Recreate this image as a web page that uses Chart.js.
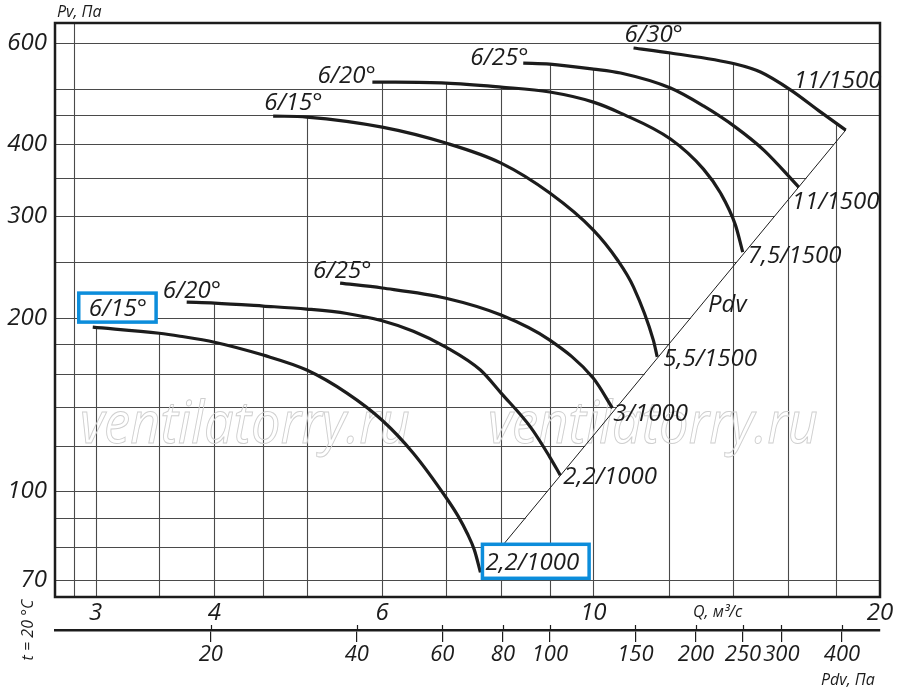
<!DOCTYPE html>
<html>
<head>
<meta charset="utf-8">
<title>Pv / Q</title>
<script src="https://cdn.jsdelivr.net/npm/chart.js"></script>
<style>
  body { margin: 0; background: #ffffff; }
  #chart { display: block; }
</style>
</head>
<body>
<canvas id="chart" width="900" height="694"></canvas>
<script>
// Q, m3/s and Pv, Pa
const q615low = [2.98, 3.5, 3.68, 4.0, 4.5, 5.0, 5.51, 6.0, 6.47, 7.0, 7.21, 7.37, 7.5, 7.61];
const p615low = [192.7, 188, 185.8, 181.4, 172.3, 162.3, 148, 132.8, 116.4, 97.6, 90.5, 84.5, 79, 72.3];

const q620low = [3.74, 4.0, 4.5, 5.0, 5.51, 6.0, 6.47, 7.0, 7.61, 8.0, 8.59, 9.0, 9.23];
const p620low = [212.9, 212.1, 209.6, 207.1, 203.5, 197.6, 189.5, 177.9, 162.3, 148, 129.2, 114.6, 106.6];

const q625low = [5.42, 6.0, 7.0, 8.0, 9.0, 10.0, 10.47];
const p625low = [229.7, 225.3, 216.3, 202.2, 182.9, 157, 139.4];

const q615 = [4.61, 5.0, 6.0, 7.0, 8.0, 9.0, 10.0, 10.6, 11.02, 11.56, 11.67];
const p615 = [448.1, 446.3, 428.7, 402.2, 371.2, 329.3, 284, 252, 226.1, 182.9, 171];

const q620 = [5.86, 7.0, 8.0, 9.0, 10.0, 10.68, 12.05, 13.05, 13.6, 14.1, 14.35];
const p620 = [513.3, 511.3, 503.1, 493.2, 473.7, 453.4, 408.7, 362.4, 329.3, 289.7, 260.1];

const q625 = [8.44, 9.0, 10.0, 10.68, 12.05, 13.05, 14.1, 15.1, 16.43];
const p625 = [553.8, 551.6, 540.7, 532.1, 501.1, 466.5, 428.7, 391, 337.3];

const q630 = [11.02, 12.05, 14.1, 14.98, 16.12, 17.33, 18.41];
const p630 = [588.2, 576.5, 551.6, 534.3, 497.1, 455.1, 423.6];

// dynamic pressure line through the curve ends
const qPdvLine = [7.61, 18.41];
const pPdvLine = [72.3, 423.6];

const bladeNames = ['6/15°', '6/20°', '6/25°', '6/15°', '6/20°', '6/25°', '6/30°'];
const motorNames = ['2,2/1000', '2,2/1000', '3/1000', '5,5/1500', '7,5/1500', '11/1500', '11/1500'];

// grid and tick values
const qGrid = [2.85, 3, 3.5, 4, 4.5, 5, 6, 7, 8, 9, 10, 12, 14, 16, 18];
const pGrid = [70, 80, 90, 100, 120, 140, 160, 180, 200, 250, 300, 350, 400, 450, 500, 600];
const qTicks = [3, 4, 6, 10, 20];
const pTicks = [70, 100, 200, 300, 400, 600];
const pdvTicks = [20, 40, 60, 80, 100, 150, 200, 250, 300, 400];

const curveQ = [q615low, q620low, q625low, q615, q620, q625, q630];
const curveP = [p615low, p620low, p625low, p615, p620, p625, p630];

// label placement next to curve start / end: [dx, dy, box padding or null]
const startLabelPos = [
  [-4, -11, [10, 9, 23, 6]],
  [-24, -4, null],
  [-27, -5, null],
  [-9, -6, null],
  [-55, 1, null],
  [-53, 2, null],
  [-9, -6, null]
];
const endLabelPos = [
  [5, -2, [3, 10, 26, 8]],
  [3, 9, null],
  [1, 13, null],
  [6, 9, null],
  [5, 11, null],
  [-7, 22, null],
  [-52, -42, null]
];

const FONT = "'Open Sans', 'Liberation Sans', sans-serif";
const INK = '#1c1c1c';
const HIGHLIGHT = '#0c8ddb';

function logInterp(xs, ys, x) {
  if (x < xs[0] || x > xs[xs.length - 1]) return null;
  for (let i = 1; i < xs.length; i++) {
    if (x <= xs[i]) {
      const t = (Math.log(x) - Math.log(xs[i - 1])) / (Math.log(xs[i]) - Math.log(xs[i - 1]));
      return Math.exp(Math.log(ys[i - 1]) + t * (Math.log(ys[i]) - Math.log(ys[i - 1])));
    }
  }
  return null;
}

function drawText(ctx, text, x, y, size) {
  ctx.save();
  ctx.font = `italic ${size}px ${FONT}`;
  ctx.fillStyle = INK;
  ctx.textAlign = 'left';
  ctx.textBaseline = 'alphabetic';
  ctx.fillText(text, x, y);
  ctx.restore();
}

function drawLabel(ctx, text, x, y, box) {
  if (box) {
    ctx.save();
    ctx.font = `italic 24px ${FONT}`;
    const w = ctx.measureText(text).width;
    ctx.fillStyle = '#ffffff';
    ctx.strokeStyle = HIGHLIGHT;
    ctx.lineWidth = 3.5;
    const l = x - box[0], r = x + w + box[1], t = y - box[2], b = y + box[3];
    ctx.fillRect(l, t, r - l, b - t);
    ctx.strokeRect(l, t, r - l, b - t);
    ctx.restore();
  }
  drawText(ctx, text, x, y, 24);
}

// grid lines stop at the upper curve envelope and at the Pdv line
const nomogramGrid = {
  id: 'nomogramGrid',
  beforeDatasetsDraw(chart) {
    const { ctx, chartArea } = chart;
    const xs = chart.scales.x, ys = chart.scales.y;
    ctx.save();
    ctx.strokeStyle = '#4a4a4a';
    ctx.lineWidth = 1.1;
    ctx.beginPath();
    qGrid.forEach(q => {
      let top = null;
      curveQ.forEach((qs, i) => {
        const p = logInterp(qs, curveP[i], q);
        if (p !== null && (top === null || p > top)) top = p;
      });
      const x = Math.round(xs.getPixelForValue(q)) + 0.5;
      const y0 = top === null ? chartArea.top : ys.getPixelForValue(top);
      ctx.moveTo(x, y0);
      ctx.lineTo(x, chartArea.bottom);
    });
    pGrid.forEach(p => {
      const q = logInterp(pPdvLine, qPdvLine, p);
      const y = Math.round(ys.getPixelForValue(p)) + 0.5;
      const x1 = q === null ? chartArea.right : xs.getPixelForValue(q);
      ctx.moveTo(chartArea.left, y);
      ctx.lineTo(x1, y);
    });
    ctx.stroke();

    // watermark
    ctx.font = `italic 58px ${FONT}`;
    ctx.strokeStyle = '#cfcfcf';
    ctx.lineWidth = 1;
    const wm = 'ventilatorry.ru';
    const sx = 330 / ctx.measureText(wm).width;
    [80, 488].forEach(left => {
      ctx.save();
      ctx.translate(left, 443);
      ctx.scale(sx, 1);
      ctx.strokeText(wm, 0, 0);
      ctx.restore();
    });
    ctx.restore();
  },
  afterDraw(chart) {
    const { ctx, chartArea } = chart;
    const xs = chart.scales.x, ys = chart.scales.y, pdv = chart.scales.pdv;

    ctx.save();
    ctx.strokeStyle = INK;
    ctx.lineWidth = 2.5;
    ctx.strokeRect(chartArea.left, chartArea.top, chartArea.right - chartArea.left, chartArea.bottom - chartArea.top);

    // upper half of the Pdv tick marks
    ctx.lineWidth = 1.2;
    ctx.beginPath();
    pdvTicks.forEach(v => {
      const x = Math.round(pdv.getPixelForValue(v)) + 0.5;
      ctx.moveTo(x, pdv.top - 5);
      ctx.lineTo(x, pdv.top);
    });
    ctx.stroke();
    ctx.restore();

    curveQ.forEach((qs, i) => {
      const n = qs.length - 1;
      const sx = xs.getPixelForValue(qs[0]), sy = ys.getPixelForValue(curveP[i][0]);
      const ex = xs.getPixelForValue(qs[n]), ey = ys.getPixelForValue(curveP[i][n]);
      const s = startLabelPos[i], e = endLabelPos[i];
      drawLabel(ctx, bladeNames[i], sx + s[0], sy + s[1], s[2]);
      drawLabel(ctx, motorNames[i], ex + e[0], ey + e[1], e[2]);
    });

    drawText(ctx, 'Pdv', 708, 312, 24);
    drawText(ctx, 'Pv, Па', 57, 17, 16);
    drawText(ctx, 'Q, м³/с', 693, 617, 16);
    drawText(ctx, 'Pdv, Па', 821, 685, 16);

    ctx.save();
    ctx.font = `italic 16px ${FONT}`;
    ctx.fillStyle = INK;
    ctx.textAlign = 'center';
    ctx.translate(33, 630);
    ctx.rotate(-Math.PI / 2);
    ctx.fillText('t = 20 °C', 0, 0);
    ctx.restore();
  }
};

const tickFont = { family: FONT, size: 24, style: 'italic' };

const datasets = curveQ.map((qs, i) => ({
  data: qs.map((q, j) => ({ x: q, y: curveP[i][j] })),
  borderColor: INK,
  borderWidth: 3.2,
  cubicInterpolationMode: 'monotone',
  pointRadius: 0,
  showLine: true,
  fill: false
}));
datasets.push({
  data: qPdvLine.map((q, j) => ({ x: q, y: pPdvLine[j] })),
  borderColor: INK,
  borderWidth: 1,
  pointRadius: 0,
  showLine: true,
  fill: false
});

new Chart(document.getElementById('chart').getContext('2d'), {
  type: 'scatter',
  data: { datasets },
  options: {
    responsive: false,
    animation: false,
    devicePixelRatio: 1,
    layout: { padding: { top: 23, right: 20, bottom: 0, left: 0 } },
    plugins: { legend: { display: false }, tooltip: { enabled: false } },
    scales: {
      x: {
        type: 'logarithmic',
        position: 'bottom',
        weight: 0,
        min: 2.72,
        max: 20,
        grid: { display: false, drawTicks: false },
        border: { display: false },
        ticks: {
          font: tickFont, color: INK, padding: 2, autoSkip: false, maxRotation: 0,
          callback: v => qTicks.includes(v) ? String(v) : ''
        },
        afterBuildTicks: s => { s.ticks = qTicks.map(v => ({ value: v })); },
        afterFit: s => { s.height = 33; }
      },
      pdv: {
        type: 'logarithmic',
        axis: 'x',
        position: 'bottom',
        weight: 1,
        min: 9.55,
        max: 479,
        grid: { drawOnChartArea: false, drawTicks: true, tickLength: 12, color: INK, lineWidth: 1.2 },
        border: { display: true, color: INK, width: 2.5 },
        ticks: {
          font: { family: FONT, size: 22, style: 'italic' }, color: INK, padding: 0, autoSkip: false, maxRotation: 0,
          callback: v => pdvTicks.includes(v) ? String(v) : ''
        },
        afterBuildTicks: s => { s.ticks = pdvTicks.map(v => ({ value: v })); },
        afterFit: s => { s.height = 64; }
      },
      y: {
        type: 'logarithmic',
        position: 'left',
        min: 65.5,
        max: 650,
        grid: { display: false, drawTicks: false },
        border: { display: false },
        ticks: {
          font: tickFont, color: INK, padding: 8, autoSkip: false,
          callback: v => pTicks.includes(v) ? String(v) : ''
        },
        afterBuildTicks: s => { s.ticks = pTicks.map(v => ({ value: v })); },
        afterFit: s => { s.width = 55; }
      }
    }
  },
  plugins: [nomogramGrid]
});
</script>
</body>
</html>
